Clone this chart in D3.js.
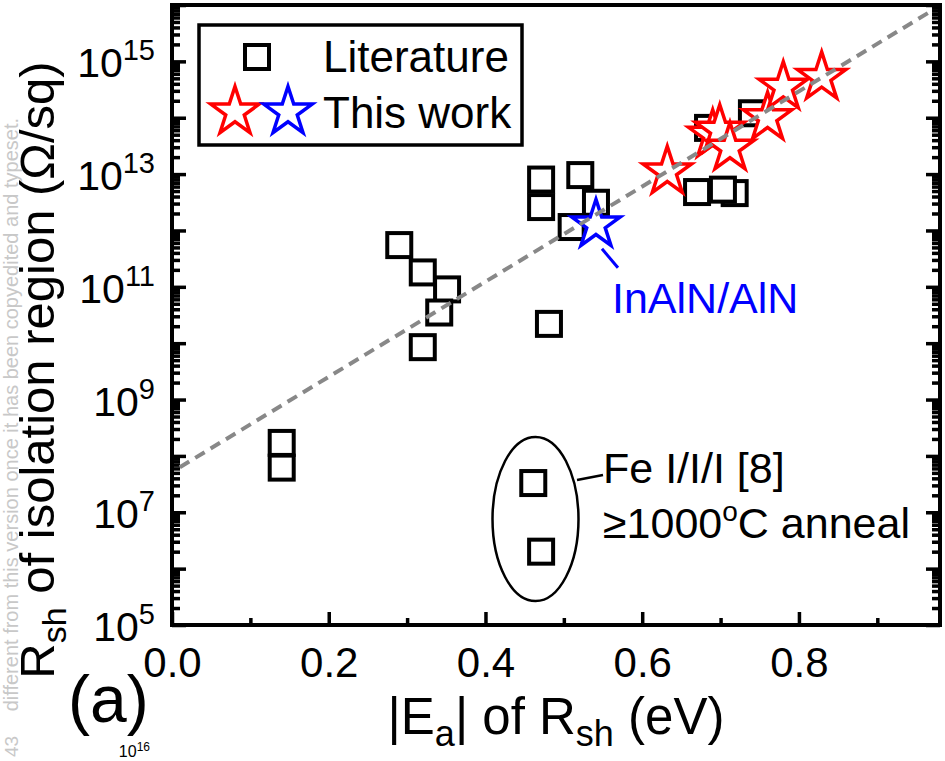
<!DOCTYPE html>
<html>
<head>
<meta charset="utf-8">
<script src="https://cdn.jsdelivr.net/npm/d3@7"></script>
<style>
body { margin: 0; background: #fff; }
svg { display: block; }
text { font-family: "Liberation Sans", Arial, Helvetica, sans-serif; }
</style>
</head>
<body>
<script>
var W = 945, H = 761;
var LEFT = 172, RIGHT = 940, TOP = 5, BOTTOM = 625;

// Literature data: |Ea| (eV) and Rsh (Ohm/sq)
var litEa  = [0.290, 0.320, 0.351, 0.341, 0.320, 0.140, 0.140, 0.471, 0.471, 0.521,
              0.541, 0.510, 0.481, 0.461, 0.471, 0.670, 0.718, 0.703, 0.740, 0.684];
var litRsh = [5.5e11, 1.8e11, 9e10, 3.5e10, 8.5e9, 1.7e8, 6.2e7, 8e12, 2.6e12, 9.6e12,
              3.1e12, 1.15e12, 2.2e10, 3.3e7, 2e6, 4.8e12, 4.6e12, 5.3e12, 1.2e14, 6.6e13];

// This work
var redEa  = [0.632, 0.690, 0.699, 0.712, 0.760, 0.780, 0.829];
var redRsh = [1.1e13, 4.9e13, 6e13, 2.9e13, 1.0e14, 3.5e14, 5.2e14];
var blueEa  = [0.541];
var blueRsh = [1.26e12];

// dashed trend line end points
var fitEa  = [0.01, 0.97];
var fitRsh = [6.3e7, 8e15];

var xMajor = [0, 0.2, 0.4, 0.6, 0.8];
var xMinor = [0.1, 0.3, 0.5, 0.7, 0.9];
var yLabelExp = [5, 7, 9, 11, 13, 15];

var svg = d3.select('body').append('svg')
    .attr('width', W)
    .attr('height', H);

var x = d3.scaleLinear().domain([0, 0.98]).range([LEFT, RIGHT]);
var y = d3.scaleLog().domain([1e5, 1e16]).range([BOTTOM, TOP]);

svg.append('clipPath').attr('id', 'plotclip')
    .append('rect')
    .attr('x', LEFT).attr('y', TOP)
    .attr('width', RIGHT - LEFT).attr('height', BOTTOM - TOP);

/* watermark remains on the left */
svg.append('text')
    .attr('transform', 'translate(18,118) rotate(-90)')
    .attr('text-anchor', 'end')
    .attr('font-size', 20)
    .attr('fill', '#c8c8c8')
    .text('different from this version once it has been copyedited and typeset.');
svg.append('text')
    .attr('transform', 'translate(18,757) rotate(-90)')
    .attr('font-size', 19)
    .attr('fill', '#c8c8c8')
    .text('43');

/* axes ticks (inward) */
var yTicks = y.ticks(40);
var yMaj = yTicks.filter(function(t) { return Math.abs(Math.log10(t) - Math.round(Math.log10(t))) < 1e-9; });
var yMin = yTicks.filter(function(t) { return yMaj.indexOf(t) < 0; });

function noDomain(g) { g.select('.domain').remove(); }

svg.append('g').attr('transform', 'translate(' + LEFT + ',0)')
    .call(d3.axisRight(y).tickValues(yMaj).tickSize(14).tickFormat(''))
    .call(noDomain);
svg.append('g').attr('transform', 'translate(' + LEFT + ',0)')
    .call(d3.axisRight(y).tickValues(yMin).tickSize(8).tickFormat(''))
    .call(noDomain);
svg.append('g').attr('transform', 'translate(' + RIGHT + ',0)')
    .call(d3.axisLeft(y).tickValues(yMaj).tickSize(14).tickFormat(''))
    .call(noDomain);
svg.append('g').attr('transform', 'translate(' + RIGHT + ',0)')
    .call(d3.axisLeft(y).tickValues(yMin).tickSize(8).tickFormat(''))
    .call(noDomain);

var xAx = svg.append('g').attr('transform', 'translate(0,' + BOTTOM + ')')
    .call(d3.axisBottom(x).tickValues(xMajor).tickSize(-13).tickPadding(22)
          .tickFormat(d3.format('.1f')))
    .call(noDomain);
xAx.selectAll('text')
    .attr('font-size', 42)
    .attr('fill', '#000')
    .style('font-family', '"Liberation Sans", Arial, sans-serif');
svg.append('g').attr('transform', 'translate(0,' + BOTTOM + ')')
    .call(d3.axisBottom(x).tickValues(xMinor).tickSize(-7).tickFormat(''))
    .call(noDomain);
svg.selectAll('.tick line').attr('stroke', '#000').attr('stroke-width', 3.5);

/* y tick labels with superscripts */
var yl = svg.selectAll('.ylab')
    .data(yLabelExp).enter()
    .append('text')
    .attr('class', 'ylab')
    .attr('x', 155)
    .attr('y', function(e) { return y(Math.pow(10, e)) + 16; })
    .attr('text-anchor', 'end')
    .attr('font-size', 41);
yl.append('tspan').text('10');
yl.append('tspan').attr('dy', -17).attr('font-size', 29).text(function(e) { return e; });

/* label of the panel below, peeking in at the bottom edge */
var cut = svg.append('text').attr('x', 150).attr('y', 757)
    .attr('text-anchor', 'end').attr('font-size', 16);
cut.append('tspan').text('10');
cut.append('tspan').attr('dy', -6).attr('font-size', 12).text('16');

/* axis titles */
var yt = svg.append('text')
    .attr('transform', 'translate(54,370) rotate(-90)')
    .attr('text-anchor', 'middle')
    .attr('font-size', 49);
yt.append('tspan').text('R');
yt.append('tspan').attr('dy', 12).attr('font-size', 34).text('sh');
yt.append('tspan').attr('dy', -12).text(' of isolation region (\u03A9/sq)');

var xt = svg.append('text')
    .attr('x', (LEFT + RIGHT) / 2)
    .attr('y', 734)
    .attr('text-anchor', 'middle')
    .attr('font-size', 51);
xt.append('tspan').text('|E');
xt.append('tspan').attr('dy', 12).attr('font-size', 36).text('a');
xt.append('tspan').attr('dy', -12).text('| of R');
xt.append('tspan').attr('dy', 12).attr('font-size', 36).text('sh');
xt.append('tspan').attr('dy', -12).text(' (eV)');

svg.append('text')
    .attr('x', 68).attr('y', 722)
    .attr('font-size', 66)
    .text('(a)');

/* data */
var lit = litEa.map(function(e, i) { return { ea: e, r: litRsh[i] }; });
var red = redEa.map(function(e, i) { return { ea: e, r: redRsh[i] }; });
var blue = blueEa.map(function(e, i) { return { ea: e, r: blueRsh[i] }; });

var SQ = 24;
svg.selectAll('.lit')
    .data(lit).enter()
    .append('rect')
    .attr('class', 'lit')
    .attr('x', function(d) { return x(d.ea) - SQ / 2; })
    .attr('y', function(d) { return y(d.r) - SQ / 2; })
    .attr('width', SQ).attr('height', SQ)
    .attr('fill', '#fff')
    .attr('stroke', '#000')
    .attr('stroke-width', 4);

var star = d3.symbol().type(d3.symbolStar).size(730);

function drawStars(data, color) {
    svg.selectAll(null)
        .data(data).enter()
        .append('path')
        .attr('d', star)
        .attr('transform', function(d) { return 'translate(' + x(d.ea) + ',' + y(d.r) + ')'; })
        .attr('fill', '#fff')
        .attr('stroke', color)
        .attr('stroke-width', 3.5)
        .attr('stroke-linejoin', 'miter');
}
drawStars(red, '#ff0000');
drawStars(blue, '#0000ff');

/* dashed trend line on top */
var fit = fitEa.map(function(e, i) { return [x(e), y(fitRsh[i])]; });
svg.append('path')
    .attr('d', d3.line()(fit))
    .attr('clip-path', 'url(#plotclip)')
    .attr('fill', 'none')
    .attr('stroke', '#888')
    .attr('stroke-width', 4)
    .attr('stroke-dasharray', '11,7');

/* annotations */
var b = blue[0];
svg.append('line')
    .attr('x1', x(b.ea) + 6).attr('y1', y(b.r) + 24)
    .attr('x2', x(b.ea) + 22).attr('y2', y(b.r) + 43)
    .attr('stroke', '#0000ff').attr('stroke-width', 3);
svg.append('text')
    .attr('x', 612).attr('y', 313)
    .attr('font-size', 43)
    .attr('fill', '#0000ff')
    .text('InAlN/AlN');

svg.append('ellipse')
    .attr('cx', 535.5).attr('cy', 519)
    .attr('rx', 43).attr('ry', 82)
    .attr('fill', 'none')
    .attr('stroke', '#000')
    .attr('stroke-width', 2.5);
svg.append('line')
    .attr('x1', 577).attr('y1', 480)
    .attr('x2', 603).attr('y2', 475)
    .attr('stroke', '#000').attr('stroke-width', 2.5);
svg.append('text')
    .attr('x', 603).attr('y', 483)
    .attr('font-size', 43)
    .text('Fe I/I/I [8]');
var ann = svg.append('text')
    .attr('x', 603).attr('y', 538)
    .attr('font-size', 43);
ann.append('tspan').text('\u22651000');
ann.append('tspan').attr('dy', -17).attr('font-size', 28).text('o');
ann.append('tspan').attr('dy', 17).text('C anneal');

/* legend */
svg.append('rect')
    .attr('x', 199).attr('y', 25)
    .attr('width', 323).attr('height', 120)
    .attr('fill', '#fff')
    .attr('stroke', '#000')
    .attr('stroke-width', 3.5);
svg.append('rect')
    .attr('x', 257 - SQ / 2).attr('y', 57 - SQ / 2)
    .attr('width', SQ).attr('height', SQ)
    .attr('fill', '#fff').attr('stroke', '#000').attr('stroke-width', 4);
[['#ff0000', 235], ['#0000ff', 288]].forEach(function(s) {
    svg.append('path')
        .attr('d', star)
        .attr('transform', 'translate(' + s[1] + ',112)')
        .attr('fill', '#fff')
        .attr('stroke', s[0])
        .attr('stroke-width', 3.5);
});
svg.append('text').attr('x', 323).attr('y', 72).attr('font-size', 44).text('Literature');
svg.append('text').attr('x', 323).attr('y', 128).attr('font-size', 44).text('This work');

/* frame */
svg.append('rect')
    .attr('x', LEFT).attr('y', TOP)
    .attr('width', RIGHT - LEFT).attr('height', BOTTOM - TOP)
    .attr('fill', 'none')
    .attr('stroke', '#000')
    .attr('stroke-width', 4);
</script>
</body>
</html>
